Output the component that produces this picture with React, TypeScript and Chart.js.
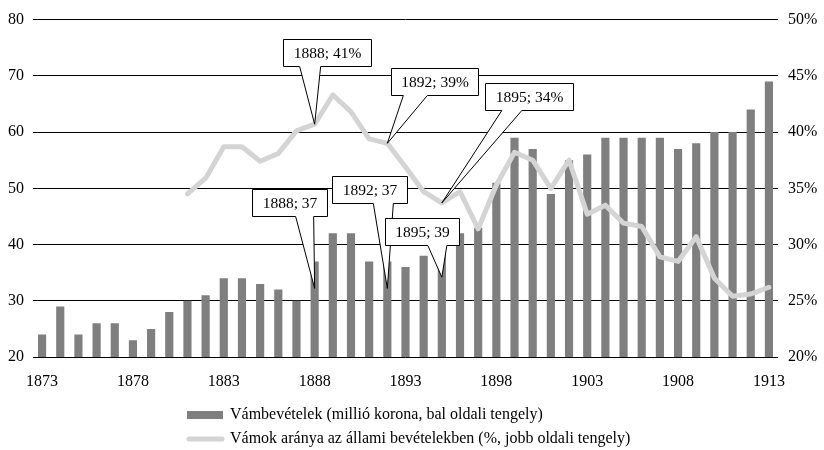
import React, { useEffect, useRef } from "react";
import { Chart, registerables } from "chart.js";

Chart.register(...registerables);

const years: string[] = [
  "1873", "1874", "1875", "1876", "1877", "1878", "1879", "1880", "1881", "1882",
  "1883", "1884", "1885", "1886", "1887", "1888", "1889", "1890", "1891", "1892",
  "1893", "1894", "1895", "1896", "1897", "1898", "1899", "1900", "1901", "1902",
  "1903", "1904", "1905", "1906", "1907", "1908", "1909", "1910", "1911", "1912",
  "1913",
];

// Vámbevételek (millió korona)
const customsRevenue: number[] = [
  24, 29, 24, 26, 26, 23, 25, 28, 30, 31,
  34, 34, 33, 32, 30, 37, 42, 42, 37, 37,
  36, 38, 39, 42, 43, 51, 59, 57, 49, 55,
  56, 59, 59, 59, 59, 57, 58, 60, 60, 64,
  69,
];

// Vámok aránya az állami bevételekben (%)
const customsShare: (number | null)[] = [
  null, null, null, null, null, null, null, null, 34.5, 35.9,
  38.7, 38.7, 37.4, 38.1, 40.1, 40.7, 43.3, 41.8, 39.4, 39.0,
  36.9, 34.7, 33.7, 34.7, 31.4, 35.3, 38.2, 37.5, 35.0, 37.5,
  32.7, 33.5, 31.9, 31.6, 28.9, 28.5, 30.7, 27.0, 25.4, 25.6,
  26.2,
];

const leftTicks: number[] = [20, 30, 40, 50, 60, 70, 80];
const rightTicks: number[] = [20, 25, 30, 35, 40, 45, 50];

const barLabel = "Vámbevételek (millió korona, bal oldali tengely)";
const lineLabel = "Vámok aránya az állami bevételekben (%, jobb oldali tengely)";

// callouts: which point, and where the box sits relative to the pointed spot
const calloutYears: string[] = ["1888", "1892", "1895", "1888", "1892", "1895"];
const calloutSeries: string[] = ["line", "line", "line", "bar", "bar", "bar"];
const calloutLayout = [
  { cx: 12.5, top: -85, b1: -15, b2: 6 },
  { cx: 47, top: -75, b1: 16, b2: 40 },
  { cx: 87, top: -120, b1: 60, b2: 80 },
  { cx: -25, top: -99, b1: -19, b2: -1 },
  { cx: -18, top: -112, b1: -14, b2: 6 },
  { cx: -20, top: -59, b1: -14, b2: 5 },
];

const FONT = "'Liberation Serif', 'Times New Roman', serif";
const BAR_COLOR = "#7f7f7f";
const LINE_COLOR = "#d4d4d4";

const calloutPlugin = {
  id: "callouts",
  afterDatasetsDraw(chart: any) {
    const ctx = chart.ctx;
    const x = chart.scales.x;
    const yL = chart.scales.y;
    const yR = chart.scales.y1;
    ctx.save();
    ctx.font = `15.5px ${FONT}`;
    calloutYears.forEach((yr, i) => {
      const idx = years.indexOf(yr);
      const isLine = calloutSeries[i] === "line";
      const v = isLine ? (customsShare[idx] as number) : customsRevenue[idx];
      const tipX = x.getPixelForValue(idx);
      const tipY = isLine ? yR.getPixelForValue(v) : yL.getPixelForValue(v) + 27;
      const text = `${yr}; ${Math.round(v)}${isLine ? "%" : ""}`;
      const L = calloutLayout[i];
      const w = ctx.measureText(text).width + 20;
      const h = 27;
      const cx = tipX + L.cx;
      const left = Math.round(cx - w / 2) + 0.5;
      const right = Math.round(cx + w / 2) + 0.5;
      const top = Math.round(tipY + L.top) + 0.5;
      const bottom = top + h;
      ctx.beginPath();
      ctx.moveTo(left, top);
      ctx.lineTo(right, top);
      ctx.lineTo(right, bottom);
      ctx.lineTo(tipX + L.b2, bottom);
      ctx.lineTo(tipX, tipY);
      ctx.lineTo(tipX + L.b1, bottom);
      ctx.lineTo(left, bottom);
      ctx.closePath();
      ctx.fillStyle = "#ffffff";
      ctx.fill();
      ctx.lineWidth = 1;
      ctx.strokeStyle = "#000000";
      ctx.stroke();
      ctx.fillStyle = "#000000";
      ctx.textAlign = "center";
      ctx.textBaseline = "middle";
      ctx.fillText(text, (left + right) / 2, top + h / 2 + 1);
    });
    ctx.restore();
  },
};

const legendPlugin = {
  id: "customLegend",
  afterDraw(chart: any) {
    const ctx = chart.ctx;
    ctx.save();
    ctx.font = `16px ${FONT}`;
    ctx.textAlign = "left";
    ctx.textBaseline = "middle";
    // bar swatch
    ctx.fillStyle = BAR_COLOR;
    ctx.fillRect(187, 411, 36, 8);
    ctx.fillStyle = "#000000";
    ctx.fillText(barLabel, 230, 415);
    // line swatch
    ctx.strokeStyle = LINE_COLOR;
    ctx.lineWidth = 5;
    ctx.lineCap = "round";
    ctx.beginPath();
    ctx.moveTo(189, 439);
    ctx.lineTo(222, 439);
    ctx.stroke();
    ctx.fillStyle = "#000000";
    ctx.fillText(lineLabel, 230, 439);
    ctx.restore();
  },
};

export default function App() {
  const ref = useRef<HTMLCanvasElement | null>(null);

  useEffect(() => {
    if (!ref.current) return;
    const chart = new Chart(ref.current, {
      type: "bar",
      data: {
        labels: years,
        datasets: [
          {
            type: "line",
            label: lineLabel,
            data: customsShare,
            yAxisID: "y1",
            borderColor: LINE_COLOR,
            backgroundColor: LINE_COLOR,
            borderWidth: 5,
            pointRadius: 0,
            tension: 0,
            borderJoinStyle: "round",
            borderCapStyle: "round",
            order: 0,
          } as any,
          {
            type: "bar",
            label: barLabel,
            data: customsRevenue,
            yAxisID: "y",
            backgroundColor: BAR_COLOR,
            barPercentage: 0.45,
            categoryPercentage: 1,
            order: 1,
          },
        ],
      },
      options: {
        responsive: false,
        animation: false,
        layout: { padding: { top: 13, left: 0, right: 0, bottom: 0 } },
        plugins: {
          legend: { display: false },
          tooltip: { enabled: false },
        },
        scales: {
          x: {
            offset: true,
            grid: { display: false },
            border: { display: false },
            ticks: {
              autoSkip: false,
              maxRotation: 0,
              padding: 7,
              color: "#000",
              font: { family: FONT, size: 16 },
              callback: (_v: any, i: number) => (i % 5 === 0 ? years[i] : ""),
            },
            afterFit: (s: any) => {
              s.height = 93;
            },
          },
          y: {
            position: "left",
            min: leftTicks[0],
            max: leftTicks[leftTicks.length - 1],
            afterBuildTicks: (s: any) => {
              s.ticks = leftTicks.map((v) => ({ value: v }));
            },
            grid: { color: "#000", lineWidth: 1, drawTicks: false },
            border: { display: false },
            ticks: {
              padding: 9,
              color: "#000",
              font: { family: FONT, size: 16 },
            },
            afterFit: (s: any) => {
              s.width = 33;
            },
          },
          y1: {
            position: "right",
            min: rightTicks[0],
            max: rightTicks[rightTicks.length - 1],
            afterBuildTicks: (s: any) => {
              s.ticks = rightTicks.map((v) => ({ value: v }));
            },
            grid: { display: false, drawTicks: false },
            border: { display: false },
            ticks: {
              padding: 10,
              color: "#000",
              font: { family: FONT, size: 16 },
              callback: (v: any) => `${v}%`,
            },
            afterFit: (s: any) => {
              s.width = 46;
            },
          },
        },
      },
      plugins: [calloutPlugin, legendPlugin],
    });
    return () => chart.destroy();
  }, []);

  return (
    <div style={{ position: "fixed", left: 0, top: 0, width: 824, height: 450, background: "#fff" }}>
      <canvas ref={ref} width={824} height={450} style={{ width: 824, height: 450, display: "block" }} />
    </div>
  );
}
